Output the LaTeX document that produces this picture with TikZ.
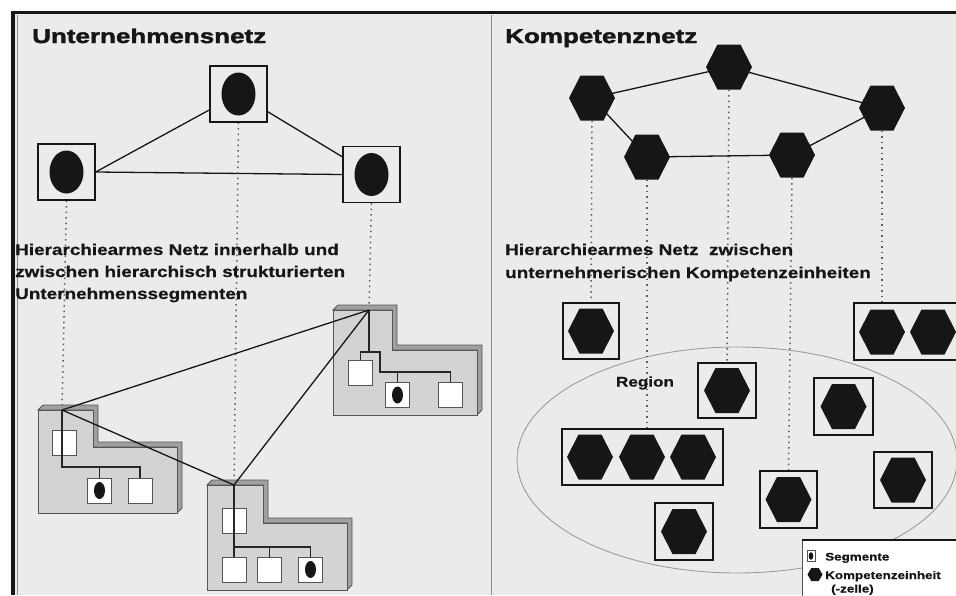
\documentclass[tikz,border=0pt]{standalone}
\usepackage{fontspec}
\setmainfont{Liberation Sans}
\newfontfamily\hvb{Liberation Sans}[FakeStretch=1.22, BoldFeatures={FakeBold=0.6}]
\newfontfamily\hvt{Liberation Sans}[FakeStretch=1.3, BoldFeatures={FakeBold=2}]
\usetikzlibrary{calc}

\definecolor{paper}{HTML}{EBEBEB}
\definecolor{ink}{HTML}{161616}
\definecolor{segface}{HTML}{D3D3D3}
\definecolor{segside}{HTML}{A0A0A0}
\definecolor{segline}{HTML}{555555}
\definecolor{dotc}{HTML}{5E5E5E}
\definecolor{regionc}{HTML}{9C9C9C}
\definecolor{rulec}{HTML}{8C8C8C}

\pgfdeclarelayer{bg}
\pgfsetlayers{bg,main}

\tikzset{
  link/.style={draw=ink, line width=1.3pt},
  guide/.style={draw=dotc, line width=1.5pt, dash pattern=on 1.5pt off 4pt},
  orgbox/.style={rectangle, draw=ink, line width=1.3pt, fill=paper,
    minimum width=57pt, minimum height=56pt, inner sep=0pt,
    path picture={\fill[ink] (path picture bounding box.center)
      ellipse [x radius=17pt, y radius=21.5pt];}},
  cellbox/.style={rectangle, draw=ink, line width=1.4pt, fill=paper,
    minimum height=56pt, inner sep=0pt},
  hexcell/.style={rectangle, fill=paper, minimum width=46pt, minimum height=45pt,
    inner sep=0pt,
    path picture={\fill[ink] (path picture bounding box.west)
      -- ([xshift=11.5pt]path picture bounding box.north west)
      -- ([xshift=-11.5pt]path picture bounding box.north east)
      -- (path picture bounding box.east)
      -- ([xshift=-11.5pt]path picture bounding box.south east)
      -- ([xshift=11.5pt]path picture bounding box.south west) -- cycle;}},
  minihex/.style={hexcell, fill=white, minimum width=15pt, minimum height=13pt,
    path picture={\fill[ink] (path picture bounding box.west)
      -- ([xshift=3.8pt]path picture bounding box.north west)
      -- ([xshift=-3.8pt]path picture bounding box.north east)
      -- (path picture bounding box.east)
      -- ([xshift=-3.8pt]path picture bounding box.south east)
      -- ([xshift=3.8pt]path picture bounding box.south west) -- cycle;}},
  unitbox/.style={rectangle, draw=segline, line width=1pt, fill=white,
    minimum width=24pt, minimum height=25pt, inner sep=0pt},
  segunit/.style={unitbox,
    path picture={\fill[ink] (path picture bounding box.center)
      ellipse [x radius=5.5pt, y radius=8.5pt];}},
  tree/.style={draw=black!85, line width=1.2pt},
  headf/.style={font=\hvt\bfseries\fontsize{20}{24}\selectfont, text=ink,
    anchor=base west, inner sep=0pt},
  bodyf/.style={font=\hvb\bfseries\fontsize{15.5}{22}\selectfont, text=ink,
    anchor=base west, inner sep=0pt},
  smallf/.style={font=\hvb\bfseries\fontsize{11}{14}\selectfont, text=ink,
    anchor=base west, inner sep=0pt},
}

% L-shaped, extruded company segment; origin at its top left corner
% #1 width, #2 height, #3 width of the raised part, #4 depth of the step
\newcommand\lsegbody[4]{%
  \filldraw[fill=segside, draw=segline, line width=0.8pt]
    (0,0) -- (5,-5) -- (#3+5,-5) -- (#3+5,#4-5) -- (#1+5,#4-5)
    -- (#1+5,#2-5) -- (#1,#2) -- (#1,#4) -- (#3,#4) -- (#3,0) -- cycle;
  \filldraw[fill=segface, draw=segline, line width=1pt]
    (0,0) -- (#3,0) -- (#3,#4) -- (#1,#4) -- (#1,#2) -- (0,#2) -- cycle;
}

\begin{document}
\begin{tikzpicture}[x=1pt,y=-1pt]
\useasboundingbox (0,0) rectangle (956,595);

\begin{pgfonlayer}{bg}
  \fill[white] (0,0) rectangle (956,595);
  \fill[paper] (13,13) rectangle (956,595);
  \draw[rulec, line width=1pt] (17.5,15) -- (17.5,595);
  \draw[rulec, line width=1pt] (491,15) -- (491,595);
  \draw[ink, line width=3.5pt] (11,12.5) -- (956,12.5);
  \draw[ink, line width=3.5pt] (12.8,11) -- (12.8,595);
\end{pgfonlayer}

% ---------------- titles and captions ----------------
\node[headf] (ttlL) at (32,43) {Unternehmensnetz};
\node[headf] (ttlR) at (505,43) {Kompetenznetz};

\node[bodyf] (capL1) at (15,255) {Hierarchiearmes Netz innerhalb und};
\node[bodyf] (capL2) at (15,277) {zwischen hierarchisch strukturierten};
\node[bodyf] (capL3) at (15,299) {Unternehmenssegmenten};

\node[bodyf] (capR1) at (505,255) {Hierarchiearmes Netz\ \ zwischen};
\node[bodyf] (capR2) at (505,278) {unternehmerischen Kompetenzeinheiten};

% ---------------- company network ----------------
\node[orgbox] (otop)   at (238.5,94) {};
\node[orgbox] (oleft)  at (66.5,172) {};
\node[orgbox] (oright) at (371.5,174.5) {};

% segment, left
\begin{scope}[shift={(38,410)}]
  \lsegbody{139}{103}{55}{37}
  \coordinate (segLroot) at (24,0);
  \node[unitbox] (uL1) at (26,32.5) {};
  \node[segunit] (uL2) at (61.5,80.5) {};
  \node[unitbox] (uL3) at (102,80.5) {};
  \draw[tree] (segLroot) -- ++(0,57) -| (uL3.north);
  \draw[tree] (uL2.north) -- ++(0,-11);
\end{scope}

% segment, bottom
\begin{scope}[shift={(207,485)}]
  \lsegbody{140}{105}{56}{38}
  \coordinate (segBroot) at (27,0);
  \node[unitbox] (uB1) at (27,36) {};
  \node[unitbox] (uB2) at (27,84.5) {};
  \node[unitbox] (uB3) at (62.5,84.5) {};
  \node[segunit] (uB4) at (103.5,84.5) {};
  \draw[tree] (segBroot) -- (uB2.north);
  \draw[tree] (27,62) -| (uB4.north);
  \draw[tree] (uB3.north) -- ++(0,-10);
\end{scope}

% segment, right
\begin{scope}[shift={(333,310)}]
  \lsegbody{144}{105}{59}{40}
  \coordinate (segRroot) at (36,0);
  \node[unitbox] (uR1) at (27.5,62.5) {};
  \node[segunit] (uR2) at (64.5,85) {};
  \node[unitbox] (uR3) at (117.5,85) {};
  \draw[tree] (segRroot) -- ++(0,42);
  \draw[tree] (uR1.north) |- (47,42) |- (117.5,62) -- (uR3.north);
  \draw[tree] (uR2.north) -- (64.5,62);
\end{scope}

\draw[link] (segRroot) -- (segLroot);
\draw[link] (segRroot) -- (segBroot);
\draw[link] (segLroot) -- (segBroot);

\begin{pgfonlayer}{bg}
  \draw[link] (otop.center) -- (oleft.east);
  \draw[link] (otop.center) -- (oright.center);
  \draw[link] (oleft.east) -- (oright.west);
  \draw[guide] (oleft.south) -- (segLroot);
  \draw[guide] (otop.south) -- (segBroot);
  \draw[guide] (oright.south) -- (segRroot);
\end{pgfonlayer}

% ---------------- competence network ----------------
\node[hexcell] (h1) at (592,98) {};
\node[hexcell] (h2) at (729,67) {};
\node[hexcell] (h3) at (882,108) {};
\node[hexcell] (h4) at (647,157) {};
\node[hexcell] (h5) at (792,155) {};
\draw[link] (h1.center) -- (h2.center) -- (h3.center) -- (h5.center)
  -- (h4.center) -- (h1.center);

% units below, inside and outside the region
\node[cellbox, minimum width=56pt] (b1) at (591,331) {};
\node[hexcell] (b1a) at (b1) {};

\node[cellbox, minimum width=104pt, minimum height=57pt] (b2) at (906,331.5) {};
\node[hexcell] (b2a) at (882,332) {};
\node[hexcell] (b2b) at (933,332) {};

\node[cellbox, minimum width=58pt, minimum height=55pt] (b3) at (727,390.5) {};
\node[hexcell] (b3a) at (b3) {};

\node[cellbox, minimum width=59pt, minimum height=57pt] (b4) at (843.5,406.5) {};
\node[hexcell] (b4a) at (b4) {};

\node[cellbox, minimum width=161pt] (b5) at (642.5,457) {};
\node[hexcell] (b5a) at (590,457) {};
\node[hexcell] (b5b) at (642,457) {};
\node[hexcell] (b5c) at (693,457) {};

\node[cellbox, minimum width=57pt, minimum height=57pt] (b6) at (788.5,499.5) {};
\node[hexcell] (b6a) at (b6) {};

\node[cellbox, minimum width=58pt] (b7) at (903,480) {};
\node[hexcell] (b7a) at (b7) {};

\node[cellbox, minimum width=58pt, minimum height=57pt] (b8) at (684,531.5) {};
\node[hexcell] (b8a) at (b8) {};

\node[font=\hvb\bfseries\fontsize{14}{16}\selectfont, text=ink, inner sep=0pt]
  (regionlbl) at (645,383) {Region};

\begin{pgfonlayer}{bg}
  \draw[regionc, line width=0.9pt] (737,460) ellipse [x radius=220pt, y radius=113pt];
  \draw[guide] (h1.south) -- (b1.north);
  \draw[guide] (h4.south) -- (h4.south |- b5.north);
  \draw[guide] (h2.south) -- (b3.north);
  \draw[guide] (h5.south) -- (b6.north);
  \draw[guide] (h3.south) -- (h3.south |- b2.north);
\end{pgfonlayer}

% ---------------- legend ----------------
\node[rectangle, draw=segline, line width=0.8pt, fill=white, anchor=north west,
  minimum width=160pt, minimum height=62pt, inner sep=0pt] (leg) at (802,540) {};
\draw[ink, line width=2pt] (leg.north west) -- (leg.north east);
\node[rectangle, draw=segline, line width=0.8pt, fill=white, minimum width=8pt,
  minimum height=11pt, inner sep=0pt,
  path picture={\fill[ink] (path picture bounding box.center)
    ellipse [x radius=2.3pt, y radius=3.8pt];}] (legseg) at (811,556) {};
\node[minihex] (leghex) at (815,574.5) {};
\node[smallf] (lgs) at (825,560.5) {Segmente};
\node[smallf] (lgk) at (825,579) {Kompetenzeinheit};
\node[smallf] (lgz) at (831,592.5) {(-zelle)};
\end{tikzpicture}
\end{document}
